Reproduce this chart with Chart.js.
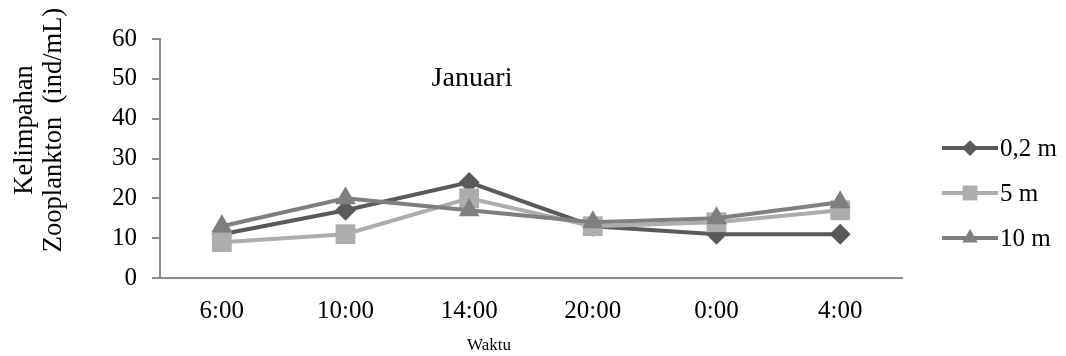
<!DOCTYPE html>
<html>
<head>
<meta charset="utf-8">
<script src="https://cdn.jsdelivr.net/npm/chart.js@4/dist/chart.umd.min.js"></script>
<style>
    html, body { margin: 0; padding: 0; background: #fff; }
    #wrap { width: 1066px; height: 356px; position: relative; }
</style>
</head>
<body>
<div id="wrap"><canvas id="chart"></canvas></div>
<script>
const times = ['6:00', '10:00', '14:00', '20:00', '0:00', '4:00']; // Waktu
const depth02 = [11, 17, 24, 13, 11, 11]; // 0,2 m
const depth5 = [9, 11, 20, 13, 14, 17]; // 5 m
const depth10 = [13, 20, 17, 14, 15, 19]; // 10 m
const seriesNames = ['0,2 m', '5 m', '10 m'];
const yTitle = ['Kelimpahan', 'Zooplankton  (ind/mL)'];
const xTitle = 'Waktu';
const chartTitle = 'Januari';

const serif = "'Liberation Serif', 'Times New Roman', serif";
const axisGray = '#8c8c8c';

// Title inside the plot, the axis titles and an Excel-like legend (line + marker).
const extras = {
    id: 'extras',
    afterDraw: function (chart) {
        const ctx = chart.ctx;
        ctx.save();
        ctx.fillStyle = '#000';
        ctx.textBaseline = 'middle';

        ctx.font = `28px ${serif}`;
        ctx.textAlign = 'center';
        ctx.fillText(chartTitle, 472, 79);

        ctx.font = `17px ${serif}`;
        ctx.fillText(xTitle, 489, 346);

        ctx.save();
        ctx.translate(0, 130);
        ctx.rotate(-Math.PI / 2);
        ctx.font = `26.5px ${serif}`;
        yTitle.forEach((line, i) => ctx.fillText(line, 0, 25 + i * 29));
        ctx.restore();

        ctx.font = `25px ${serif}`;
        ctx.textAlign = 'left';
        chart.data.datasets.forEach((ds, i) => {
            const y = 148 + i * 45;
            ctx.strokeStyle = ds.borderColor;
            ctx.lineWidth = ds.borderWidth;
            ctx.beginPath();
            ctx.moveTo(942, y);
            ctx.lineTo(998, y);
            ctx.stroke();
            ctx.fillStyle = ds.borderColor;
            Chart.helpers.drawPoint(ctx, {
                pointStyle: ds.pointStyle,
                radius: ds.pointRadius * 0.75,
                rotation: 0,
                borderWidth: 0,
            }, 970, y);
            ctx.fillStyle = '#000';
            ctx.fillText(ds.label, 1000, y + 1);
        });
        ctx.restore();
    },
};

function series(label, data, color, style, radius, order) {
    return {
        label: label,
        data: data,
        borderColor: color,
        backgroundColor: color,
        borderWidth: 4,
        pointStyle: style,
        pointRadius: radius,
        pointHoverRadius: radius,
        pointBorderWidth: 0,
        pointBackgroundColor: color,
        tension: 0,
        order: order,
    };
}

new Chart(document.getElementById('chart'), {
    type: 'line',
    data: {
        labels: times,
        datasets: [
            series(seriesNames[0], depth02, '#5a5a5a', 'rectRot', 10.5, 3),
            series(seriesNames[1], depth5, '#adadad', 'rect', 14, 2),
            series(seriesNames[2], depth10, '#7f7f7f', 'triangle', 12, 1),
        ],
    },
    options: {
        responsive: true,
        maintainAspectRatio: false,
        animation: false,
        layout: { padding: { top: 39, right: 164, left: 0, bottom: 0 } },
        plugins: {
            legend: { display: false },
            tooltip: { enabled: false },
        },
        scales: {
            x: {
                offset: true,
                grid: { display: false, drawTicks: false },
                border: { display: true, color: axisGray, width: 2 },
                ticks: { color: '#000', font: { family: serif, size: 25 }, padding: 18, maxRotation: 0 },
                afterFit: (scale) => { scale.height = 78; },
            },
            y: {
                min: 0,
                max: 60,
                ticks: { stepSize: 10, color: '#000', font: { family: serif, size: 25 }, padding: 15 },
                grid: { drawOnChartArea: false, color: axisGray, lineWidth: 2, tickLength: 8 },
                border: { display: true, color: axisGray, width: 2 },
                afterFit: (scale) => { scale.width = 160; },
            },
        },
    },
    plugins: [extras],
});
</script>
</body>
</html>
